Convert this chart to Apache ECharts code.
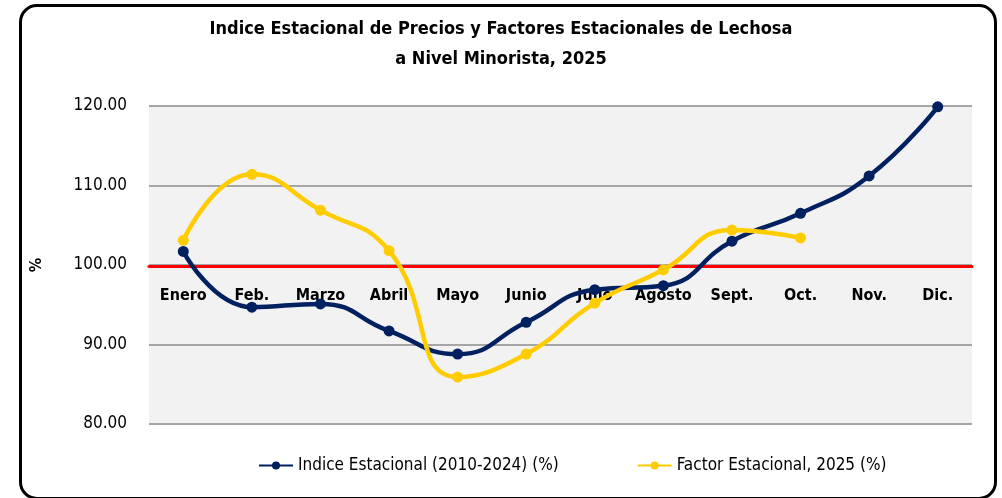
<!DOCTYPE html>
<html>
<head>
<meta charset="utf-8">
<script src="https://cdn.jsdelivr.net/npm/echarts@6/dist/echarts.min.js"></script>
<style>
  html, body { margin: 0; padding: 0; background: #fff; }
  #frame {
    position: absolute; left: 19px; top: 4px; width: 972px; height: 490px;
    border: 3px solid #000; border-radius: 18px;
  }
  #chart { position: absolute; left: 0; top: 0; width: 1002px; height: 498px; }
</style>
</head>
<body>
<div id="frame"></div>
<div id="chart"></div>
<script>
var meses = ['Enero', 'Feb.', 'Marzo', 'Abril', 'Mayo', 'Junio', 'Julio', 'Agosto', 'Sept.', 'Oct.', 'Nov.', 'Dic.']
var indiceEstacional = [101.7, 94.7, 95.1, 91.7, 88.8, 92.8, 96.9, 97.4, 103.0, 106.5, 111.2, 119.9]
var factorEstacional = [103.1, 111.4, 106.9, 101.8, 85.9, 88.8, 95.2, 99.4, 104.4, 103.4]

var narrow = "'DejaVu Sans Condensed', 'Liberation Sans', sans-serif"

var myChart = echarts.init(document.getElementById('chart'))
var option = {
  backgroundColor: 'transparent',
  title: {
    text: 'Indice Estacional de Precios y Factores Estacionales de Lechosa\na Nivel Minorista, 2025',
    left: 'center',
    top: 9,
    textStyle: { fontFamily: narrow, fontWeight: 'bold', fontSize: 18, lineHeight: 30, color: '#000' }
  },
  legend: {
    left: 258,
    top: 457,
    padding: 0,
    itemWidth: 34,
    itemHeight: 10,
    itemGap: 78,
    textStyle: { fontFamily: narrow, fontSize: 17, color: '#000' },
    data: ['Indice Estacional (2010-2024) (%)', 'Factor Estacional, 2025 (%)']
  },
  grid: {
    left: 149, right: 30, top: 106, bottom: 74,
    show: true, backgroundColor: '#f2f2f2', borderWidth: 0
  },
  xAxis: {
    type: 'category',
    data: meses,
    offset: -158,
    axisLine: { lineStyle: { color: '#ff0000', width: 3 } },
    axisTick: { show: false },
    axisLabel: { interval: 0, margin: 22, fontFamily: narrow, fontWeight: 'bold', fontSize: 16, color: '#000' }
  },
  yAxis: {
    type: 'value',
    min: 80,
    max: 120,
    interval: 10,
    name: '%',
    nameLocation: 'middle',
    nameGap: 104,
    nameTextStyle: { fontFamily: narrow, fontWeight: 'bold', fontSize: 16, color: '#000' },
    axisLine: { show: false },
    axisTick: { show: false },
    splitLine: { lineStyle: { color: '#a6a6a6', width: 2 } },
    axisLabel: {
      margin: 22,
      fontFamily: narrow, fontSize: 17, color: '#000',
      formatter: function (v) { return v.toFixed(2) }
    }
  },
  series: [
    {
      name: 'Indice Estacional (2010-2024) (%)',
      type: 'line',
      smooth: 0.5,
      data: indiceEstacional,
      symbol: 'circle',
      symbolSize: 11,
      lineStyle: { color: '#002060', width: 4.5 },
      itemStyle: { color: '#002060' }
    },
    {
      name: 'Factor Estacional, 2025 (%)',
      type: 'line',
      smooth: 0.5,
      data: factorEstacional,
      symbol: 'circle',
      symbolSize: 11,
      lineStyle: { color: '#ffcc00', width: 4.5 },
      itemStyle: { color: '#ffcc00' }
    }
  ]
}
myChart.setOption(option)
</script>
</body>
</html>
